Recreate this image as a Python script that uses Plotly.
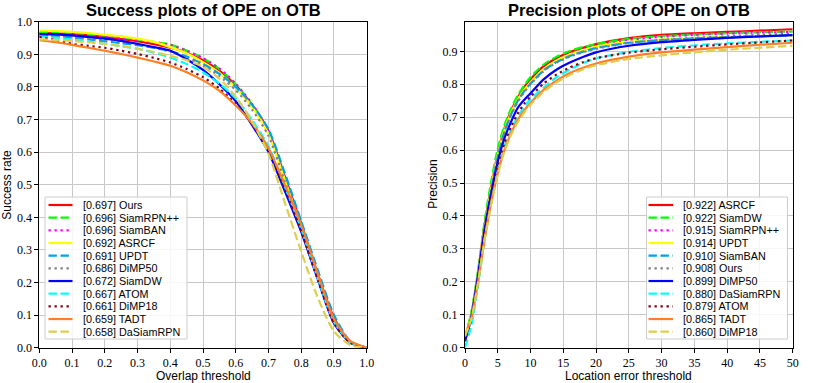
import plotly.graph_objects as go
from plotly.subplots import make_subplots

# success plot (overlap thresholds)
overlap = [round(i * 0.05, 2) for i in range(21)]
succ_names = ["[0.697] Ours", "[0.696] SiamRPN++", "[0.696] SiamBAN", "[0.692] ASRCF",
              "[0.691] UPDT", "[0.686] DiMP50", "[0.672] SiamDW", "[0.667] ATOM",
              "[0.661] DiMP18", "[0.659] TADT", "[0.658] DaSiamRPN"]
succ_ours = [0.965, 0.964, 0.962, 0.958, 0.953, 0.947, 0.940, 0.931, 0.920, 0.905, 0.882, 0.850, 0.805, 0.745, 0.665, 0.525, 0.380, 0.228, 0.092, 0.018, 0.0]
succ_siamrpnpp = [0.969, 0.968, 0.966, 0.962, 0.957, 0.952, 0.946, 0.938, 0.930, 0.912, 0.888, 0.855, 0.808, 0.745, 0.660, 0.515, 0.370, 0.220, 0.085, 0.016, 0.0]
succ_siamban = [0.962, 0.961, 0.959, 0.956, 0.953, 0.949, 0.944, 0.937, 0.929, 0.911, 0.888, 0.857, 0.810, 0.748, 0.663, 0.520, 0.372, 0.220, 0.085, 0.016, 0.0]
succ_asrcf = [0.973, 0.972, 0.969, 0.965, 0.960, 0.955, 0.948, 0.938, 0.922, 0.903, 0.876, 0.843, 0.797, 0.738, 0.655, 0.515, 0.370, 0.218, 0.085, 0.016, 0.0]
succ_updt = [0.958, 0.956, 0.952, 0.946, 0.940, 0.934, 0.928, 0.920, 0.910, 0.893, 0.870, 0.840, 0.800, 0.745, 0.670, 0.535, 0.388, 0.240, 0.100, 0.020, 0.0]
succ_dimp50 = [0.956, 0.955, 0.952, 0.948, 0.943, 0.937, 0.930, 0.920, 0.908, 0.890, 0.866, 0.833, 0.790, 0.730, 0.650, 0.510, 0.370, 0.218, 0.083, 0.016, 0.0]
succ_siamdw = [0.962, 0.961, 0.958, 0.953, 0.948, 0.941, 0.932, 0.922, 0.911, 0.885, 0.852, 0.808, 0.756, 0.683, 0.600, 0.480, 0.355, 0.212, 0.075, 0.016, 0.0]
succ_atom = [0.955, 0.951, 0.945, 0.939, 0.932, 0.925, 0.917, 0.905, 0.890, 0.870, 0.845, 0.810, 0.765, 0.698, 0.618, 0.495, 0.365, 0.215, 0.080, 0.016, 0.0]
succ_dimp18 = [0.953, 0.944, 0.932, 0.926, 0.920, 0.911, 0.901, 0.889, 0.875, 0.855, 0.830, 0.795, 0.748, 0.686, 0.610, 0.488, 0.358, 0.210, 0.075, 0.015, 0.0]
succ_tadt = [0.943, 0.937, 0.929, 0.920, 0.911, 0.901, 0.890, 0.878, 0.865, 0.845, 0.820, 0.788, 0.743, 0.688, 0.612, 0.500, 0.377, 0.228, 0.087, 0.020, 0.0]
succ_dasiamrpn = [0.946, 0.944, 0.941, 0.937, 0.932, 0.925, 0.917, 0.907, 0.895, 0.882, 0.862, 0.825, 0.770, 0.693, 0.595, 0.445, 0.295, 0.155, 0.050, 0.008, 0.0]
succ_values = [succ_ours, succ_siamrpnpp, succ_siamban, succ_asrcf, succ_updt, succ_dimp50,
               succ_siamdw, succ_atom, succ_dimp18, succ_tadt, succ_dasiamrpn]

# precision plot (location error thresholds)
loc_err = [0, 1, 2, 3, 4, 5, 6, 7, 8, 9, 10, 12, 14, 16, 18, 20, 25, 30, 35, 40, 45, 50]
prec_names = ["[0.922] ASRCF", "[0.922] SiamDW", "[0.915] SiamRPN++", "[0.914] UPDT",
              "[0.910] SiamBAN", "[0.908] Ours", "[0.899] DiMP50", "[0.880] DaSiamRPN",
              "[0.879] ATOM", "[0.865] TADT", "[0.860] DiMP18"]
prec_asrcf = [0.03, 0.105, 0.23, 0.375, 0.49, 0.59, 0.665, 0.718, 0.758, 0.79, 0.815, 0.855, 0.88, 0.898, 0.911, 0.922, 0.94, 0.95, 0.955, 0.959, 0.963, 0.967]
prec_siamdw = [0.03, 0.11, 0.235, 0.385, 0.505, 0.605, 0.675, 0.725, 0.765, 0.795, 0.822, 0.86, 0.884, 0.901, 0.913, 0.922, 0.938, 0.946, 0.951, 0.955, 0.958, 0.96]
prec_siamrpnpp = [0.03, 0.10, 0.225, 0.37, 0.485, 0.585, 0.66, 0.712, 0.752, 0.782, 0.806, 0.847, 0.873, 0.891, 0.905, 0.915, 0.934, 0.944, 0.95, 0.954, 0.957, 0.959]
prec_updt = [0.03, 0.10, 0.225, 0.37, 0.485, 0.585, 0.66, 0.712, 0.752, 0.782, 0.806, 0.846, 0.872, 0.89, 0.903, 0.914, 0.929, 0.936, 0.94, 0.943, 0.946, 0.948]
prec_siamban = [0.02, 0.095, 0.22, 0.365, 0.48, 0.58, 0.655, 0.707, 0.748, 0.778, 0.802, 0.842, 0.868, 0.886, 0.899, 0.91, 0.926, 0.934, 0.939, 0.943, 0.946, 0.949]
prec_ours = [0.025, 0.10, 0.225, 0.37, 0.482, 0.58, 0.655, 0.705, 0.745, 0.775, 0.80, 0.84, 0.866, 0.884, 0.897, 0.908, 0.925, 0.935, 0.941, 0.946, 0.95, 0.953]
prec_dimp50 = [0.02, 0.095, 0.22, 0.36, 0.47, 0.565, 0.635, 0.685, 0.727, 0.752, 0.773, 0.815, 0.845, 0.866, 0.883, 0.897, 0.917, 0.928, 0.935, 0.941, 0.945, 0.949]
prec_dasiamrpn = [0.0, 0.07, 0.19, 0.33, 0.44, 0.535, 0.61, 0.66, 0.70, 0.73, 0.755, 0.79, 0.822, 0.845, 0.864, 0.879, 0.898, 0.91, 0.918, 0.924, 0.929, 0.933]
prec_atom = [0.02, 0.09, 0.21, 0.35, 0.455, 0.55, 0.62, 0.67, 0.71, 0.74, 0.763, 0.802, 0.83, 0.851, 0.867, 0.879, 0.896, 0.906, 0.914, 0.921, 0.927, 0.933]
prec_tadt = [0.035, 0.09, 0.20, 0.33, 0.44, 0.53, 0.60, 0.65, 0.69, 0.72, 0.744, 0.783, 0.812, 0.834, 0.85, 0.863, 0.884, 0.897, 0.905, 0.913, 0.92, 0.926]
prec_dimp18 = [0.035, 0.09, 0.20, 0.33, 0.435, 0.525, 0.595, 0.645, 0.683, 0.713, 0.738, 0.777, 0.806, 0.828, 0.845, 0.858, 0.877, 0.888, 0.897, 0.905, 0.911, 0.917]
prec_values = [prec_asrcf, prec_siamdw, prec_siamrpnpp, prec_updt, prec_siamban, prec_ours,
               prec_dimp50, prec_dasiamrpn, prec_atom, prec_tadt, prec_dimp18]

# rank styles (same for both plots)
colors = ["#ff0000", "#00ff00", "#ff00ff", "#ffff00", "rgb(0,162,232)", "#808080",
          "#0000ff", "#00ffff", "rgb(136,0,21)", "rgb(255,127,39)", "#dccf4c"]
DASH = "8.4px,3.6px"
DOT = "2.3px,3.7px"
dashes = ["solid", DASH, DOT, "solid", DASH, DOT, "solid", DASH, DOT, "solid", DASH]
LW = 2.2

W, H = 830, 383
fig = make_subplots(rows=1, cols=2)

for name, ys, c, d in zip(succ_names, succ_values, colors, dashes):
    fig.add_trace(go.Scatter(x=overlap, y=ys, mode="lines", name=name,
                             line=dict(color=c, width=LW, dash=d, shape="spline", smoothing=0.7)),
                  row=1, col=1)
for name, ys, c, d in zip(prec_names, prec_values, colors, dashes):
    fig.add_trace(go.Scatter(x=loc_err, y=ys, mode="lines", name=name,
                             line=dict(color=c, width=LW, dash=d, shape="spline", smoothing=0.6)),
                  row=1, col=2)

def px(x):
    return x / W

def py(y):
    return 1 - y / H

axis_common = dict(showline=True, mirror=True, linecolor="black", linewidth=1,
                   ticks="outside", ticklen=4, tickwidth=1, tickcolor="black",
                   showgrid=True, gridcolor="#c8c8c8", gridwidth=1.4, zeroline=False,
                   automargin=False,
                   tickfont=dict(family="Liberation Serif, serif", size=12, color="black"))

fig.update_layout(
    width=W, height=H, showlegend=False,
    margin=dict(l=0, r=0, t=0, b=0, autoexpand=False),
    plot_bgcolor="white", paper_bgcolor="white",
    xaxis=dict(axis_common, domain=[px(39.3), px(366.7)], range=[0, 1], dtick=0.1,
               tickformat=".1f"),
    yaxis=dict(axis_common, domain=[py(347.7), py(21.7)], range=[0, 1], dtick=0.1,
               tickformat=".1f"),
    xaxis2=dict(axis_common, domain=[px(465), px(792.7)], range=[0, 50], dtick=5),
    yaxis2=dict(axis_common, domain=[py(347.7), py(21.7)], range=[0, 0.99], dtick=0.1,
                tickformat=".1f"),
)

def label(x, y, txt, size, angle=0, bold=False):
    fig.add_annotation(x=px(x), y=py(y), xref="paper", yref="paper", showarrow=False,
                       text=("<b>" + txt + "</b>") if bold else txt, textangle=angle,
                       xanchor="center", yanchor="middle",
                       font=dict(family="Liberation Sans", size=size, color="black"))

# titles and axis labels
label(203, 10.5, "Success plots of OPE on OTB", 16.5, bold=True)
label(628.8, 10.5, "Precision plots of OPE on OTB", 16.5, bold=True)
label(203, 375.5, "Overlap threshold", 12)
label(628.8, 375.5, "Location error threshold", 12)
label(7, 184.7, "Success rate", 12, angle=-90)
label(433, 184.7, "Precision", 12, angle=-90)

# legends drawn by hand (matplotlib-like compact rows)
def draw_legend(names, box_x0, box_x1, line_x0, line_x1, text_x):
    row0, step = 205, 12.67
    fig.add_shape(type="rect", xref="paper", yref="paper",
                  x0=px(box_x0), x1=px(box_x1), y0=py(197), y1=py(339),
                  fillcolor="rgba(255,255,255,0.85)", line=dict(color="#cccccc", width=1))
    for i, (name, c, d) in enumerate(zip(names, colors, dashes)):
        yy = py(row0 + step * i)
        fig.add_shape(type="line", xref="paper", yref="paper",
                      x0=px(line_x0), x1=px(line_x1), y0=yy, y1=yy,
                      line=dict(color=c, width=LW, dash=d))
        fig.add_annotation(x=px(text_x), y=yy, xref="paper", yref="paper", showarrow=False,
                           text=name, xanchor="left", yanchor="middle",
                           font=dict(family="Liberation Sans", size=10.8, color="black"))

draw_legend(succ_names, 45, 187, 48.5, 72.5, 80.5)
draw_legend(prec_names, 646.5, 787.5, 648.5, 673, 681)

# the page's default body margin would offset the figure by 8px
fig.write_html("out.html", config={"displayModeBar": False},
               post_script="document.body.style.margin='0';")
